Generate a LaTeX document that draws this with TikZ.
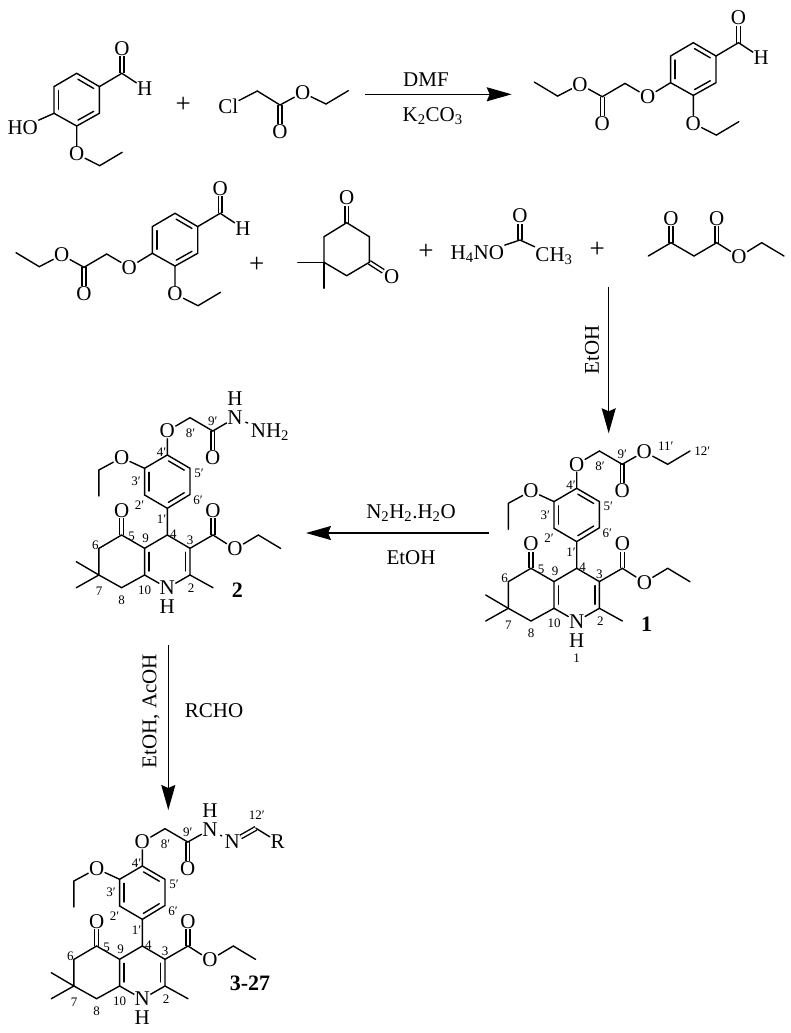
\documentclass[tikz,border=0pt]{standalone}
\usepackage{fontspec}
\setmainfont{Liberation Serif}
\usetikzlibrary{calc,arrows.meta}
\newcommand{\atomfont}{\fontsize{21}{21}\selectfont}
\newcommand{\numfont}{\fontsize{13}{13}\selectfont}
\newcommand{\inbond}[2]{\draw[bond,shorten <=4pt,shorten >=4pt] ($(#1)!4.5pt!90:(#2)$) -- ($(#2)!4.5pt!-90:(#1)$);}
\tikzset{
  bond/.style={line width=1.4pt,line cap=round},
  dbl/.style={line width=1.4pt,double,double distance=2.4pt},
  atom/.style={font=\atomfont,inner sep=0.6pt},
  plus/.style={font=\fontsize{27}{27}\selectfont,inner sep=0pt},
  num/.style={font=\numfont,inner sep=0pt},
  cpd/.style={font=\fontsize{22}{22}\selectfont\bfseries,inner sep=0pt},
  rxn/.style={-{Stealth[length=25pt,width=14pt,inset=3pt]},line width=1.4pt},
  pics/core/.style={code={
    \coordinate (-C4) at (0,0);
    \coordinate (-C3) at (22.7,13.3);
    \coordinate (-C2) at (22.7,40);
    \node[atom] (-N) at (0,53) {N};
    \node[atom] (-H) at (0,72) {H};
    \coordinate (-C10) at (-22.7,40);
    \coordinate (-C9) at (-22.7,13.3);
    \coordinate (-C5) at (-45.7,0);
    \coordinate (-C6) at (-68.4,13.4);
    \coordinate (-C7) at (-68.4,40);
    \coordinate (-C8) at (-45.7,52.7);
    \node[atom] (-O5) at (-45.7,-24.5) {O};
    \coordinate (-Me1) at (-91,26.7);
    \coordinate (-Me2) at (-91,52.7);
    \coordinate (-Me3) at (45.7,52.7);
    \coordinate (-EC) at (45.7,0);
    \node[atom] (-EOd) at (45.7,-24.5) {O};
    \node[atom] (-EO) at (67.7,14) {O};
    \coordinate (-ECa) at (91,0);
    \coordinate (-ECb) at (113.3,13.4);
    \coordinate (-C1p) at (0,-26.7);
    \coordinate (-C6p) at (22.7,-40.5);
    \coordinate (-C5p) at (22.7,-66.7);
    \coordinate (-C4p) at (0,-80);
    \coordinate (-C3p) at (-22.7,-66.7);
    \coordinate (-C2p) at (-22.7,-40);
    \node[atom] (-PO) at (-45.7,-77.3) {O};
    \coordinate (-PCa) at (-68.4,-65);
    \coordinate (-PCb) at (-68.4,-39);
    \node[atom] (-QO) at (0,-104) {O};
    \coordinate (-C8p) at (22.7,-117.3);
    \coordinate (-C9p) at (45.5,-104);
    \node[atom] (-QOd) at (45.5,-77.5) {O};
    \draw[dbl] (-C5) -- (-O5);
    \draw[dbl] (-EC) -- (-EOd);
    \draw[dbl] (-C9p) -- (-QOd);
    \draw[bond] (-C4) -- (-C3) -- (-C2) -- (-N);
    \draw[bond] (-N) -- (-C10) -- (-C9) -- (-C4);
    \draw[bond] (-C9) -- (-C5) -- (-C6) -- (-C7) -- (-C8) -- (-C10);
    \draw[bond] (-C7) -- (-Me1);
    \draw[bond] (-C7) -- (-Me2);
    \draw[bond] (-C2) -- (-Me3);
    \draw[bond] (-C3) -- (-EC) -- (-EO) -- (-ECa) -- (-ECb);
    \draw[bond] (-C4) -- (-C1p) -- (-C6p) -- (-C5p) -- (-C4p) -- (-C3p) -- (-C2p) -- (-C1p);
    \draw[bond] (-C3p) -- (-PO) -- (-PCa) -- (-PCb);
    \draw[bond] (-C4p) -- (-QO) -- (-C8p) -- (-C9p);
    \inbond{-C9}{-C10}
    \inbond{-C2}{-C3}
    \inbond{-C3p}{-C2p}
    \inbond{-C1p}{-C6p}
    \inbond{-C5p}{-C4p}
    \foreach \lx/\ly/\lb [count=\i] in {-35.7/1/5,-72/10/6,-68.3/56.7/7,-45.7/65/8,-21.7/3.3/9,-22.7/55/10,23.7/53.3/2,22.7/5.7/3,6/-1/4,-5.7/-16/1′,-27.7/-30/2′,-31.3/-53.3/3′,-5.7/-83/4′,31.7/-61.7/5′,30.7/-35/6′,23.3/-101.7/8′,45.5/-114/9′}
      \node[num] (-n\i) at (\lx,\ly) {\lb};
  }},
  pics/arene/.style={code={
    \coordinate (-T) at (0,0);
    \coordinate (-UR) at (22.7,13.3);
    \coordinate (-LR) at (22.7,40);
    \coordinate (-B) at (0,52.7);
    \coordinate (-LL) at (-22.7,40);
    \coordinate (-UL) at (-22.7,13.3);
    \coordinate (-CA) at (45.2,0);
    \node[atom] (-OA) at (45.2,-24.7) {O};
    \node[atom] (-HA) at (68,15) {H};
    \node[atom] (-OB) at (0,80.7) {O};
    \coordinate (-CBa) at (23,92.4);
    \coordinate (-CBb) at (45.5,79);
    \draw[dbl] (-CA) -- (-OA);
    \draw[bond] (-T) -- (-UR) -- (-LR) -- (-B) -- (-LL) -- (-UL) -- cycle;
    \draw[bond] (-UR) -- (-CA) -- (-HA);
    \draw[bond] (-B) -- (-OB) -- (-CBa) -- (-CBb);
    \inbond{-UL}{-LL}
    \inbond{-B}{-LR}
    \inbond{-UR}{-T}
  }},
  pics/etchain/.style={code={
    \node[atom] (-O1) at (-45.7,54) {O};
    \coordinate (-Ca) at (-68.3,40.7);
    \coordinate (-Cb) at (-91,54);
    \node[atom] (-O2) at (-91,80.7) {O};
    \node[atom] (-O3) at (-113.3,41.7) {O};
    \coordinate (-Cc) at (-135.7,53.4);
    \coordinate (-Cd) at (-159,39.4);
    \draw[dbl] (-Cb) -- (-O2);
    \draw[bond] (-O1) -- (-Ca) -- (-Cb) -- (-O3) -- (-Cc) -- (-Cd);
  }}
}
\begin{document}
\begin{tikzpicture}[x=1pt,y=-1pt]
\useasboundingbox (0,0) rectangle (791,1033);
\pic (v1) at (76.7,73.3) {arene};
\node[atom] (HO) at (22.7,127.3) {HO};
\draw[bond] (v1-LL) -- (HO);
\node[plus] (p1) at (183.3,105) {+};
\node[atom] (Cl) at (228.3,106) {Cl};
\coordinate (ClCa) at (257.3,91);
\coordinate (ClCb) at (280,105);
\node[atom] (ClOd) at (280,131.7) {O};
\node[atom] (ClO) at (302.7,92.7) {O};
\coordinate (ClCc) at (326,104);
\coordinate (ClCd) at (348.3,90.7);
\draw[dbl] (ClCb) -- (ClOd);
\draw[bond] (Cl) -- (ClCa) -- (ClCb) -- (ClO) -- (ClCc) -- (ClCd);
\coordinate (r1s) at (365,94.3);
\coordinate (r1e) at (511.7,94.3);
\draw[rxn] (r1s) -- (r1e);
\node[atom] (DMF) at (426,79.3) {DMF};
\node[atom] (KCO) at (432.7,116) {K\textsubscript{2}CO\textsubscript{3}};
\pic (v2) at (693.3,42.7) {arene};
\pic (e2) at (693.3,42.7) {etchain};
\draw[bond] (v2-LL) -- (e2-O1);
\pic (v3) at (175,213.3) {arene};
\pic (e3) at (175,213.3) {etchain};
\draw[bond] (v3-LL) -- (e3-O1);
\node[plus] (p2) at (256.7,265) {+};
\coordinate (DTop) at (346.7,222.7);
\coordinate (DUR) at (369.3,236.7);
\coordinate (DLR) at (369.3,262.3);
\coordinate (DB) at (346.7,275.7);
\coordinate (DLL) at (324,262.3);
\coordinate (DUL) at (324,236.7);
\node[atom] (DOa) at (346.7,197.7) {O};
\node[atom] (DOb) at (391.7,276.7) {O};
\coordinate (DMa) at (297.7,262.3);
\coordinate (DMb) at (324,288.3);
\draw[dbl] (DTop) -- (DOa);
\draw[dbl] (DLR) -- (DOb);
\draw[bond] (DTop) -- (DUR) -- (DLR) -- (DB) -- (DLL) -- (DUL) -- cycle;
\draw[bond] (DLL) -- (DMa);
\draw[bond] (DLL) -- (DMb);
\node[plus] (p3) at (426,252) {+};
\node[atom] (HNO) at (477.3,254.3) {H\textsubscript{4}NO};
\coordinate (AcC) at (520,240);
\node[atom] (AcO) at (520,215.7) {O};
\node[atom] (AcMe) at (554,255.7) {CH\textsubscript{3}};
\draw[dbl] (AcC) -- (AcO);
\draw[bond] (HNO) -- (AcC) -- (AcMe);
\node[plus] (p4) at (597.3,250) {+};
\coordinate (KMe) at (648.3,256);
\coordinate (KC) at (671,242.7);
\node[atom] (KO) at (671,218.3) {O};
\coordinate (KCa) at (694,256);
\coordinate (KCb) at (716.7,242.7);
\node[atom] (KOd) at (716.7,218.3) {O};
\node[atom] (KOe) at (739,256.7) {O};
\coordinate (KCc) at (761.7,242.7);
\coordinate (KCd) at (784,256);
\draw[dbl] (KC) -- (KO);
\draw[dbl] (KCb) -- (KOd);
\draw[bond] (KMe) -- (KC) -- (KCa) -- (KCb) -- (KOe) -- (KCc) -- (KCd);
\coordinate (r2s) at (608.7,287);
\coordinate (r2e) at (608.7,433.3);
\draw[rxn] (r2s) -- (r2e);
\node[atom,rotate=90] (EtOHa) at (592,350) {EtOH};
\pic (c1) at (576.7,568.3) {core};
\node[atom] (c1O) at (644.3,451.7) {O};
\coordinate (c1Ca) at (667.7,464.3);
\coordinate (c1Cb) at (690,451);
\draw[bond] (c1-C9p) -- (c1O) -- (c1Ca) -- (c1Cb);
\node[num] (n11) at (665.7,446.7) {11′};
\node[num] (n12) at (702.3,450.7) {12′};
\node[num] (n1) at (576.7,658.3) {1};
\node[cpd] (lab1) at (646.7,624) {1};
\coordinate (r3s) at (489,533);
\coordinate (r3e) at (306,533);
\draw[rxn] (r3s) -- (r3e);
\node[atom] (NNH) at (411,513) {N\textsubscript{2}H\textsubscript{2}.H\textsubscript{2}O};
\node[atom] (EtOHb) at (411,558) {EtOH};
\pic (c2) at (167.3,535) {core};
\node[atom] (c2N) at (235,418) {N};
\node[atom] (c2H) at (235,399) {H};
\node[atom] (c2NH) at (270,431.7) {NH\textsubscript{2}};
\draw[bond] (c2-C9p) -- (c2N);
\draw[bond,shorten <=2.5pt,shorten >=2.5pt] (c2N) -- (c2NH);
\node[cpd] (lab2) at (237.3,590) {2};
\coordinate (r4s) at (168.3,645);
\coordinate (r4e) at (168.3,810);
\draw[rxn] (r4s) -- (r4e);
\node[atom,rotate=90] (EtAc) at (151,711) {EtOH, AcOH};
\node[atom] (RCHO) at (214,711) {RCHO};
\pic (c3) at (142.3,946) {core};
\node[atom] (c3N) at (210,829.5) {N};
\node[atom] (c3H) at (210,810.5) {H};
\node[atom] (c3Nb) at (232.3,841.7) {N};
\coordinate (c3C) at (256,828.3);
\node[atom] (c3R) at (277.7,841.7) {R};
\draw[dbl] (c3Nb) -- (c3C);
\draw[bond] (c3-C9p) -- (c3N);
\draw[bond,shorten <=2.5pt,shorten >=2.5pt] (c3N) -- (c3Nb);
\draw[bond] (c3C) -- (c3R);
\node[num] (n12b) at (256.7,815) {12′};
\node[cpd] (lab3) at (250,983.3) {3-27};
\end{tikzpicture}
\end{document}
